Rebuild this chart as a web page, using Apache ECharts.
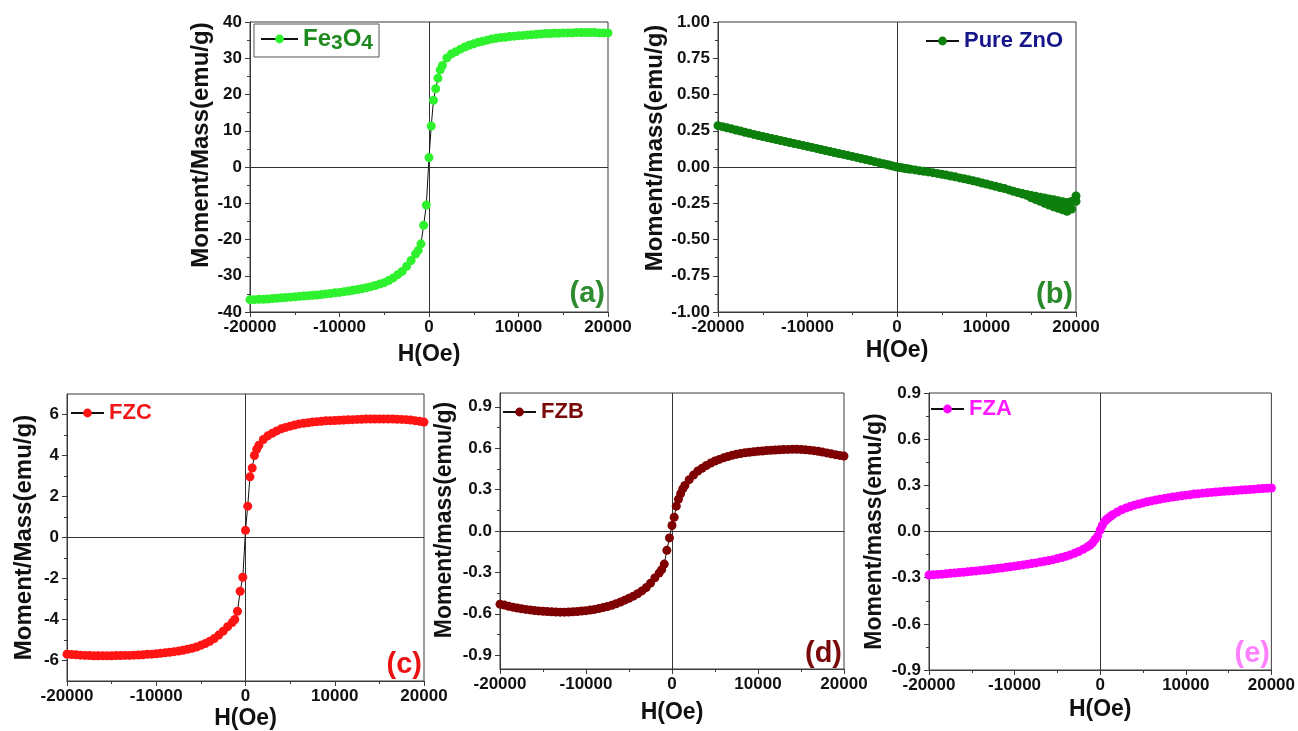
<!DOCTYPE html>
<html>
<head>
<meta charset="utf-8">
<title>M-H loops</title>
<script src="https://cdn.jsdelivr.net/npm/echarts@6/dist/echarts.min.js"></script>
<style>
    html, body { margin: 0; padding: 0; background: #fff; }
    #chart { width: 1298px; height: 731px; }
</style>
</head>
<body>
<div id="chart"></div>
<script>
    // applied field (Oe), shared by all five samples
    var FIELD = [
        -20000, -19500, -19000, -18500, -18000, -17500, -17000, -16500, -16000, -15500,
        -15000, -14500, -14000, -13500, -13000, -12500, -12000, -11500, -11000, -10500,
        -10000, -9500, -9000, -8500, -8000, -7500, -7000, -6500, -6000, -5500,
        -5000, -4500, -4000, -3500, -3000,
        -2500, -2000, -1500, -1200, -900, -600, -300, 0, 250, 500, 750, 1000, 1250, 1500, 2000, 2500,
        3000, 3500, 4000, 4500, 5000, 5500, 6000, 6500, 7000, 7500,
        8000, 8500, 9000, 9500, 10000, 10500, 11000, 11500, 12000, 12500,
        13000, 13500, 14000, 14500, 15000, 15500, 16000, 16500, 17000, 17500,
        18000, 18500, 19000, 19500, 20000
    ];

    // moment/mass (emu/g)
    var FE3O4 = [
        -36.6, -36.6, -36.5, -36.5, -36.4, -36.3, -36.2, -36.1, -36.0, -35.9,
        -35.8, -35.7, -35.6, -35.5, -35.4, -35.3, -35.2, -35.0, -34.9, -34.7,
        -34.6, -34.4, -34.2, -34.0, -33.8, -33.6, -33.3, -33.0, -32.7, -32.3,
        -31.9, -31.3, -30.6, -29.7, -28.8,
        -27.4, -25.8, -24.0, -23.0, -21.2, -16.1, -10.5, 2.6, 11.3, 18.4, 21.6, 24.5, 26.8, 28.0, 30.1, 31.2,
        31.8, 32.5, 33.1, 33.6, 34.0, 34.4, 34.7, 35.0, 35.3, 35.5,
        35.7, 35.8, 36.0, 36.1, 36.2, 36.3, 36.4, 36.5, 36.6, 36.7,
        36.8, 36.8, 36.9, 36.9, 37.0, 37.0, 37.0, 37.1, 37.1, 37.1,
        37.1, 37.1, 37.0, 37.0, 37.0
    ];

    var ZNO = [
        0.285, 0.278, 0.270, 0.263, 0.255, 0.248, 0.240, 0.232, 0.225, 0.217,
        0.210, 0.203, 0.196, 0.190, 0.183, 0.176, 0.169, 0.162, 0.156, 0.149,
        0.142, 0.135, 0.128, 0.121, 0.114, 0.107, 0.100, 0.093, 0.087, 0.080,
        0.073, 0.066, 0.059, 0.052, 0.045,
        0.037, 0.030, 0.022, 0.018, 0.013, 0.009, 0.004, 0.000, -0.003, -0.005, -0.008, -0.010, -0.013, -0.015, -0.020, -0.025,
        -0.030, -0.034, -0.039, -0.044, -0.050, -0.056, -0.062, -0.068, -0.075, -0.081,
        -0.088, -0.095, -0.102, -0.110, -0.117, -0.125, -0.133, -0.141, -0.149, -0.158,
        -0.167, -0.176, -0.185, -0.195, -0.212, -0.224, -0.237, -0.250, -0.262, -0.274,
        -0.285, -0.295, -0.305, -0.290, -0.200
    ];
    // ZnO return sweep at high field (the small open loop)
    var ZNO_RETURN_FIELD = [20000, 19500, 19000, 18500, 18000, 17500, 17000, 16500, 16000, 15500, 15000, 14500, 14000];
    var ZNO_RETURN = [-0.236, -0.238, -0.245, -0.240, -0.232, -0.226, -0.220, -0.214, -0.208, -0.202, -0.196, -0.190, -0.184];

    var FZC = [
        -5.69, -5.71, -5.72, -5.74, -5.75, -5.76, -5.77, -5.77, -5.77, -5.77,
        -5.77, -5.76, -5.76, -5.75, -5.75, -5.74, -5.73, -5.72, -5.70, -5.69,
        -5.67, -5.65, -5.62, -5.60, -5.57, -5.54, -5.50, -5.45, -5.40, -5.34,
        -5.26, -5.17, -5.06, -4.93, -4.76,
        -4.57, -4.35, -4.15, -4.00, -3.60, -2.62, -1.94, 0.35, 1.53, 2.96, 3.39, 4.00, 4.30, 4.50, 4.78, 4.96,
        5.08, 5.20, 5.30, 5.37, 5.43, 5.49, 5.54, 5.57, 5.60, 5.63,
        5.65, 5.67, 5.69, 5.70, 5.71, 5.72, 5.73, 5.74, 5.75, 5.76,
        5.77, 5.78, 5.78, 5.78, 5.78, 5.78, 5.78, 5.78, 5.77, 5.76,
        5.75, 5.73, 5.70, 5.67, 5.63
    ];

    var FZB = [
        -0.530, -0.537, -0.545, -0.552, -0.558, -0.563, -0.568, -0.572, -0.576, -0.579,
        -0.582, -0.584, -0.586, -0.587, -0.588, -0.588, -0.587, -0.586, -0.583, -0.580,
        -0.577, -0.573, -0.568, -0.562, -0.555, -0.547, -0.538, -0.527, -0.515, -0.501,
        -0.487, -0.472, -0.455, -0.434, -0.410,
        -0.378, -0.340, -0.305, -0.280, -0.240, -0.140, -0.050, 0.040, 0.100, 0.180, 0.230, 0.270, 0.305, 0.330, 0.372, 0.405,
        0.435, 0.455, 0.475, 0.492, 0.507, 0.519, 0.530, 0.540, 0.549, 0.556,
        0.562, 0.567, 0.571, 0.574, 0.577, 0.580, 0.583, 0.585, 0.587, 0.589,
        0.590, 0.591, 0.592, 0.592, 0.591, 0.589, 0.586, 0.582, 0.577, 0.572,
        0.566, 0.559, 0.553, 0.548, 0.543
    ];

    var FZA = [
        -0.283, -0.281, -0.279, -0.277, -0.275, -0.272, -0.270, -0.267, -0.265, -0.262,
        -0.259, -0.256, -0.253, -0.250, -0.247, -0.244, -0.240, -0.237, -0.233, -0.229,
        -0.225, -0.221, -0.217, -0.213, -0.208, -0.204, -0.199, -0.194, -0.189, -0.183,
        -0.176, -0.169, -0.161, -0.152, -0.142,
        -0.130, -0.116, -0.100, -0.089, -0.074, -0.052, -0.030, 0.010, 0.040, 0.064, 0.078, 0.090, 0.100, 0.110, 0.127, 0.141,
        0.152, 0.162, 0.171, 0.179, 0.186, 0.193, 0.199, 0.205, 0.210, 0.215,
        0.220, 0.224, 0.228, 0.232, 0.236, 0.239, 0.243, 0.246, 0.249, 0.252,
        0.254, 0.257, 0.259, 0.261, 0.263, 0.265, 0.267, 0.269, 0.271, 0.273,
        0.275, 0.277, 0.279, 0.281, 0.283
    ];

    // tick labels for the panels that do not use a plain interval
    var FZC_TICKS = [-6, -4, -2, 0, 2, 4, 6];
    var FZC_MINOR = [-5, -3, -1, 1, 3, 5];
    var FZB_TICKS = [-0.9, -0.6, -0.3, 0, 0.3, 0.6, 0.9];
    var FZB_MINOR = [-0.75, -0.45, -0.15, 0.15, 0.45, 0.75];

    var FONT = '"Liberation Sans", Arial, Helvetica, sans-serif';
    var AXIS_COLOR = '#3a3a3a';

    function pairs(xs, ys) {
        return xs.map(function (x, i) { return [x, ys[i]]; });
    }

    function xAxisFor(gi, nameGap) {
        return {
            type: 'value', gridIndex: gi, min: -20000, max: 20000, interval: 10000,
            name: 'H(Oe)', nameLocation: 'middle', nameGap: nameGap,
            nameTextStyle: { fontFamily: FONT, fontWeight: 'bold', fontSize: 23, color: '#111' },
            axisLine: { onZero: false, lineStyle: { color: AXIS_COLOR, width: 1 } },
            axisTick: { length: 5, lineStyle: { color: AXIS_COLOR } },
            minorTick: { show: true, splitNumber: 2, length: 3, lineStyle: { color: AXIS_COLOR } },
            axisLabel: {
                margin: 7, fontFamily: FONT, fontWeight: 'bold', fontSize: 17, color: '#111',
                formatter: function (v) { return String(v); }
            },
            splitLine: { show: false }
        };
    }

    function yAxisFor(gi, c) {
        return {
            type: 'value', gridIndex: gi, min: c.min, max: c.max, interval: c.interval,
            position: 'left',
            name: c.name, nameLocation: 'middle', nameGap: c.nameGap,
            nameTextStyle: {
                fontFamily: FONT, fontWeight: 'bold', fontSize: c.nameSize, color: '#111',
                padding: [0, 0, 0, c.shift * 2]
            },
            axisLine: { onZero: false, lineStyle: { color: AXIS_COLOR, width: 1 } },
            axisTick: { length: 5, lineStyle: { color: AXIS_COLOR }, customValues: c.ticks },
            minorTick: { show: !c.ticks, splitNumber: 2, length: 3, lineStyle: { color: AXIS_COLOR } },
            axisLabel: {
                margin: 8, fontFamily: FONT, fontWeight: 'bold', fontSize: 17, color: '#111',
                formatter: c.fmt, customValues: c.ticks
            },
            splitLine: { show: false }
        };
    }

    // extra y axis that only carries the short minor ticks
    function minorAxisFor(gi, min, max, values) {
        return {
            type: 'value', gridIndex: gi, min: min, max: max, position: 'left',
            axisLine: { show: false, onZero: false },
            axisTick: { length: 3, lineStyle: { color: AXIS_COLOR }, customValues: values },
            axisLabel: { show: false },
            splitLine: { show: false }
        };
    }

    var zeroLines = {
        silent: true, animation: false, z: 1,
        symbol: ['none', 'none'],
        label: { show: false },
        lineStyle: { color: '#333', width: 1, type: 'solid' },
        data: [{ xAxis: 0 }, { yAxis: 0 }]
    };

    function loop(name, gi, yi, data, color) {
        return {
            name: name, type: 'line', xAxisIndex: gi, yAxisIndex: yi,
            data: data, symbol: 'circle', symbolSize: 9,
            itemStyle: { color: color },
            lineStyle: { color: '#111', width: 1 },
            markLine: zeroLines,
            animation: false
        };
    }

    function legendFor(name, left, top, color, extra) {
        var l = {
            data: [name], left: left, top: top, selectedMode: false,
            itemWidth: 33, itemHeight: 11, padding: 0,
            textStyle: { fontFamily: FONT, fontWeight: 'bold', fontSize: 22, color: color }
        };
        return Object.assign(l, extra || {});
    }

    function panelTag(text, x, y, color) {
        return {
            type: 'text', x: x, y: y, silent: true,
            style: {
                text: text, align: 'right', verticalAlign: 'middle',
                font: 'bold 29px ' + FONT, fill: color
            }
        };
    }

    var chart = echarts.init(document.getElementById('chart'));

    var option = {
        backgroundColor: '#fff',
        animation: false,
        grid: [
            { left: 250, top: 22, width: 358, height: 290 },
            { left: 718, top: 22, width: 358, height: 290 },
            { left: 67, top: 394, width: 357, height: 289 },
            { left: 500, top: 393, width: 344, height: 276 },
            { left: 929, top: 393, width: 344, height: 277 }
        ].map(function (g) {
            return Object.assign({ show: true, borderColor: AXIS_COLOR, borderWidth: 1 }, g);
        }),
        xAxis: [
            xAxisFor(0, 31),
            xAxisFor(1, 27),
            xAxisFor(2, 26),
            xAxisFor(3, 32),
            xAxisFor(4, 28)
        ],
        yAxis: [
            yAxisFor(0, { min: -40, max: 40, interval: 10, name: 'Moment/Mass(emu/g)', nameGap: 34, nameSize: 24, shift: 22 }),
            yAxisFor(1, { min: -1, max: 1, interval: 0.25, name: 'Moment/mass(emu/g)', nameGap: 47, nameSize: 24, shift: 19,
                fmt: function (v) { return v.toFixed(2); } }),
            yAxisFor(2, { min: -7, max: 7, name: 'Moment/Mass(emu/g)', nameGap: 31, nameSize: 24, shift: 0, ticks: FZC_TICKS }),
            yAxisFor(3, { min: -1, max: 1, name: 'Moment/mass(emu/g)', nameGap: 44, nameSize: 23, shift: 11, ticks: FZB_TICKS,
                fmt: function (v) { return v.toFixed(1); } }),
            yAxisFor(4, { min: -0.9, max: 0.9, interval: 0.3, name: 'Moment/mass(emu/g)', nameGap: 43, nameSize: 23, shift: 0,
                fmt: function (v) { return v.toFixed(1); } }),
            minorAxisFor(2, -7, 7, FZC_MINOR),
            minorAxisFor(3, -1, 1, FZB_MINOR)
        ],
        legend: [
            legendFor('Fe3O4', 254, 24, '#1e8a1e', {
                itemWidth: 37, itemHeight: 11,
                borderColor: '#555', borderWidth: 1, padding: [3, 6, 3, 6],
                formatter: function () { return '{n|Fe}{s|3}{n|O}{s|4}'; },
                textStyle: {
                    rich: {
                        n: { fontFamily: FONT, fontWeight: 'bold', fontSize: 24, color: '#1e8a1e', lineHeight: 30 },
                        s: { fontFamily: FONT, fontWeight: 'bold', fontSize: 21, color: '#1e8a1e', lineHeight: 21, verticalAlign: 'bottom' }
                    }
                }
            }),
            legendFor('Pure ZnO', 925, 30, '#16168a'),
            legendFor('FZC', 70, 402, '#f01818'),
            legendFor('FZB', 502, 401, '#7a0a0a'),
            legendFor('FZA', 930, 398, '#ff1aff')
        ],
        series: [
            loop('Fe3O4', 0, 0, pairs(FIELD, FE3O4), '#2ef22e'),
            loop('Pure ZnO', 1, 1, pairs(FIELD, ZNO).concat(pairs(ZNO_RETURN_FIELD, ZNO_RETURN)), '#0c7f0c'),
            loop('FZC', 2, 2, pairs(FIELD, FZC), '#ff1414'),
            loop('FZB', 3, 3, pairs(FIELD, FZB), '#7e0000'),
            loop('FZA', 4, 4, pairs(FIELD, FZA), '#ff00ff')
        ],
        graphic: [
            panelTag('(a)', 605, 294, '#2e8b2e'),
            panelTag('(b)', 1073, 295, '#2a8a2a'),
            panelTag('(c)', 422, 665, '#ee1111'),
            panelTag('(d)', 842, 654, '#7a0a0a'),
            panelTag('(e)', 1270, 654, '#ff80ff')
        ]
    };

    chart.setOption(option);
</script>
</body>
</html>
